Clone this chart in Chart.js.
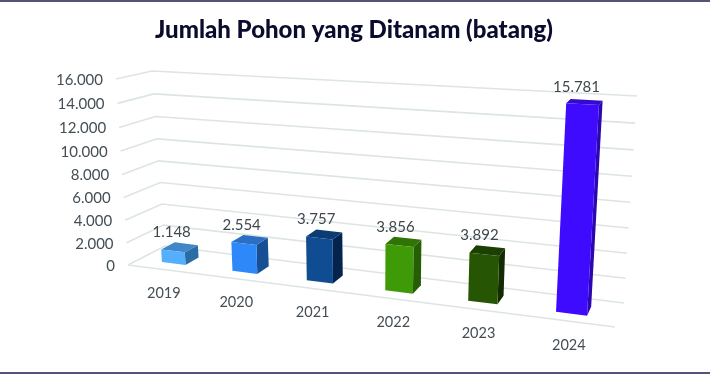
<!DOCTYPE html>
<html>
<head>
<meta charset="utf-8">
<style>
    html, body { margin: 0; background: #fff; }
    #wrap { position: relative; width: 710px; height: 375px; overflow: hidden; }
    #wrap .rule { position: absolute; left: 0; width: 710px; background: #54547a; }
    canvas { display: block; }
</style>
<script src="https://cdn.jsdelivr.net/npm/chart.js@4/dist/chart.umd.min.js"></script>
</head>
<body>
<div id="wrap">
    <canvas id="treeChart" width="710" height="375"></canvas>
    <div class="rule" style="top:0;height:2px"></div>
    <div class="rule" style="top:372px;height:2px"></div>
</div>
<script>
const years = ["2019", "2020", "2021", "2022", "2023", "2024"];
const planted = [1148, 2554, 3757, 3856, 3892, 15781];

const frontColors = ["#56aeff", "#2f88f8", "#0f4c92", "#3f9a08", "#265603", "#3f0bff"];
const topColors = ["#3f87c6", "#2a6fc4", "#0c3c74", "#2f7405", "#1c3f02", "#3409d0"];
const sideColors = ["#2a6ca3", "#174f94", "#04234d", "#265e05", "#132b01", "#2c07b0"];

const yTicks = { min: 0, max: 16000, step: 2000 };

// where the corners of the plot box land on the page: cube[u][v][w]
const cube = [
    [[[128, 265], [165, 246]], [[116, 79], [152, 71]]],
    [[[615, 327], [624, 303]], [[629, 107], [637, 96]]]
];
const perspU = 1.18;
const perspV = 1.055;
const depthFront = 0.31;
const depthBack = 0.69;

function thousands(v) {
    return String(v).replace(/\B(?=(\d{3})+$)/g, ".");
}

function lerp(a, b, t) {
    return a + (b - a) * t;
}

function project(u, v, w) {
    const pu = u / (u + (1 - u) * perspU);
    const pv = v / (v + (1 - v) * perspV);
    return [0, 1].map(k => {
        const near = lerp(
            lerp(cube[0][0][0][k], cube[1][0][0][k], pu),
            lerp(cube[0][1][0][k], cube[1][1][0][k], pu), pv);
        const far = lerp(
            lerp(cube[0][0][1][k], cube[1][0][1][k], pu),
            lerp(cube[0][1][1][k], cube[1][1][1][k], pu), pv);
        return lerp(near, far, w);
    });
}

function face(ctx, points, color) {
    ctx.beginPath();
    points.forEach((p, i) => i ? ctx.lineTo(p[0], p[1]) : ctx.moveTo(p[0], p[1]));
    ctx.closePath();
    ctx.fillStyle = color;
    ctx.fill();
}

function line(ctx, points) {
    ctx.beginPath();
    points.forEach((p, i) => i ? ctx.lineTo(p[0], p[1]) : ctx.moveTo(p[0], p[1]));
    ctx.stroke();
}

// the real scales stay in chart.js, this only bends what they give into the 3d box
const box3d = {
    id: "box3d",
    beforeDatasetsDraw(chart) {
        const { ctx, chartArea: area, scales: { x, y } } = chart;
        const toV = val => (area.bottom - y.getPixelForValue(val)) / area.height;

        ctx.save();
        ctx.strokeStyle = "#dce5e2";
        ctx.lineWidth = 1.6;
        y.ticks.forEach(t => {
            const v = toV(t.value);
            line(ctx, [project(0, v, 0), project(0, v, 1), project(1, v, 1)]);
        });
        line(ctx, [project(0, 0, 0), project(1, 0, 0)]);

        ctx.font = "15px Lato";
        ctx.fillStyle = "#444e54";
        ctx.textAlign = "right";
        ctx.textBaseline = "middle";
        y.ticks.forEach(t => {
            const p = project(0, toV(t.value), 0);
            ctx.fillText(t.label, p[0] - 13, p[1] + 1);
        });

        ctx.font = "14.5px Lato";
        ctx.textAlign = "center";
        x.ticks.forEach(t => {
            const u = (x.getPixelForValue(t.value) - area.left) / area.width;
            const p = project(u, 0, 0);
            ctx.fillText(t.label, p[0] + 1, p[1] + 24);
        });
        ctx.restore();
    },
    beforeDatasetDraw(chart) {
        const { ctx, chartArea: area } = chart;
        const bars = chart.getDatasetMeta(0).data;

        ctx.save();
        bars.forEach((bar, i) => {
            const u0 = (bar.x - bar.width / 2 - area.left) / area.width;
            const u1 = (bar.x + bar.width / 2 - area.left) / area.width;
            const v = (bar.base - bar.y) / area.height;
            face(ctx, [project(u1, 0, depthFront), project(u1, 0, depthBack),
                project(u1, v, depthBack), project(u1, v, depthFront)], sideColors[i]);
            face(ctx, [project(u0, v, depthFront), project(u1, v, depthFront),
                project(u1, v, depthBack), project(u0, v, depthBack)], topColors[i]);
            face(ctx, [project(u0, 0, depthFront), project(u1, 0, depthFront),
                project(u1, v, depthFront), project(u0, v, depthFront)], frontColors[i]);
        });

        ctx.font = "15px Lato";
        ctx.fillStyle = "#3d474d";
        ctx.textAlign = "center";
        ctx.textBaseline = "middle";
        bars.forEach((bar, i) => {
            const u = (bar.x - area.left) / area.width;
            const v = (bar.base - bar.y) / area.height;
            const p = project(u, v, 0.5);
            ctx.fillText(thousands(planted[i]), p[0] - 8, p[1] - 15);
        });
        ctx.restore();
        return false;
    }
};

new Chart(document.getElementById("treeChart"), {
    type: "bar",
    plugins: [box3d],
    data: {
        labels: years,
        datasets: [{
            label: "Jumlah Pohon",
            data: planted,
            backgroundColor: frontColors,
            barPercentage: 0.34,
            categoryPercentage: 1
        }]
    },
    options: {
        responsive: false,
        animation: false,
        layout: { padding: { left: 110, right: 112, bottom: 40 } },
        plugins: {
            legend: { display: false },
            tooltip: { enabled: false },
            title: {
                display: true,
                text: "Jumlah Pohon yang Ditanam (batang)",
                color: "#0b0b2e",
                font: { family: "Lato", size: 24, weight: "900" },
                padding: { top: 16, bottom: 16 }
            }
        },
        scales: {
            x: {
                grid: { display: false },
                border: { display: false },
                ticks: { display: false }
            },
            y: {
                min: yTicks.min,
                max: yTicks.max,
                grid: { display: false },
                border: { display: false },
                ticks: { display: false, stepSize: yTicks.step, callback: v => thousands(v) }
            }
        }
    }
});
</script>
</body>
</html>
